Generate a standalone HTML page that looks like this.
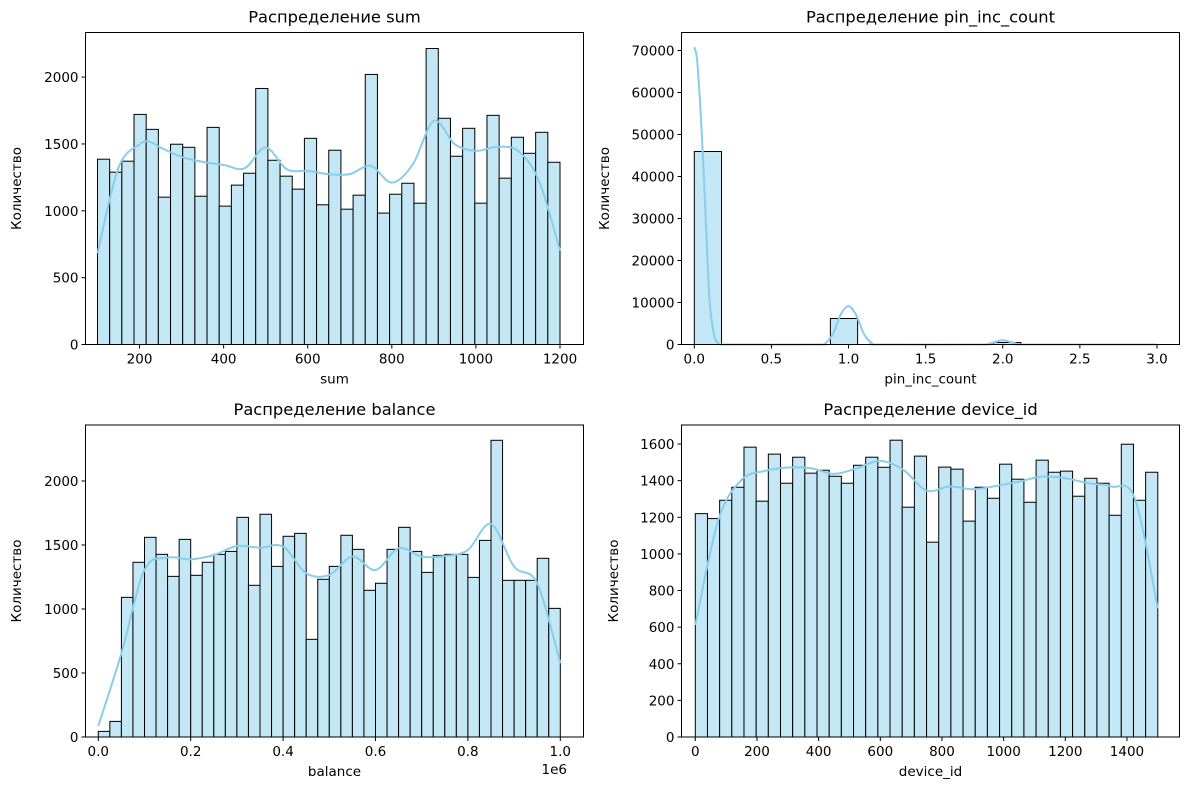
<!DOCTYPE html>
<html><head><meta charset="utf-8"><style>
body{margin:0;background:#fff}
svg{display:block;font-family:"DejaVu Sans","Liberation Sans",sans-serif}
</style></head><body>
<svg id="fig" width="1189" height="790" viewBox="0 0 1189 790" xmlns="http://www.w3.org/2000/svg"></svg>
<script>
// ---- data ----
const sumCounts=[1386,1289,1371,1721,1609,1102,1498,1475,1109,1624,1035,1192,1281,1915,1378,1259,1162,1542,1045,1453,1012,1117,2020,983,1124,1206,1057,2214,1692,1408,1617,1057,1714,1244,1550,1430,1587,1363];
const sumKdeX=[100,150,200,225,250,300,350,400,450,500,550,600,650,700,750,800,850,900,950,1000,1050,1100,1150,1200];
const sumKdeY=[682,1323,1497,1515,1473,1403,1366,1343,1318,1473,1311,1299,1274,1274,1336,1211,1348,1672,1497,1448,1478,1448,1224,702];
const pinCounts=[45950,0,0,0,0,6190,0,0,0,0,0,476,0,0,0,0,20];
const pinKdeX=[0,0.02,0.05,0.08,0.1,0.13,0.16,0.2,0.25,0.8,0.85,0.9,0.95,1.0,1.05,1.1,1.15,1.2,1.85,1.9,1.95,2.0,2.05,2.1,2.15,3.0];
const pinKdeY=[70800,67000,49200,25000,10000,2000,200,0,0,0,300,2600,7200,9100,7000,2500,400,0,0,100,600,1000,600,100,0,0];
const balCounts=[44,122,1091,1365,1560,1427,1255,1544,1263,1365,1427,1450,1716,1185,1740,1333,1568,1591,763,1232,1333,1576,1466,1146,1201,1466,1638,1450,1286,1419,1427,1427,1247,1536,2318,1224,1224,1224,1396,1005];
const balKdeX=[0,0.05,0.1,0.15,0.2,0.25,0.3,0.35,0.4,0.45,0.5,0.55,0.6,0.65,0.7,0.75,0.8,0.85,0.9,0.95,1.0];
const balKdeY=[86,654,1305,1401,1388,1422,1492,1479,1487,1279,1266,1409,1305,1474,1409,1414,1461,1664,1331,1201,576];
const devCounts=[1220,1193,1293,1364,1583,1288,1545,1386,1528,1441,1457,1424,1386,1484,1528,1473,1621,1255,1534,1064,1474,1463,1179,1364,1304,1490,1408,1282,1512,1446,1452,1315,1413,1386,1211,1599,1293,1446];
const devKdeX=[0,75,150,225,300,375,450,525,600,675,750,825,900,975,1050,1125,1200,1275,1350,1425,1500];
const devKdeY=[612,1186,1404,1453,1472,1468,1437,1468,1508,1459,1346,1368,1353,1371,1395,1422,1413,1386,1368,1304,703];
const sumXTicks=[200,400,600,800,1000,1200], sumYTicks=[0,500,1000,1500,2000];
const pinXTicks=[0,0.5,1,1.5,2,2.5,3], pinXLabels=["0.0","0.5","1.0","1.5","2.0","2.5","3.0"];
const pinYTicks=[0,10000,20000,30000,40000,50000,60000,70000];
const balXTicks=[0,0.2,0.4,0.6,0.8,1], balXLabels=["0.0","0.2","0.4","0.6","0.8","1.0"];
const balYTicks=[0,500,1000,1500,2000];
const devXTicks=[0,200,400,600,800,1000,1200,1400], devYTicks=[0,200,400,600,800,1000,1200,1400,1600];

const NS="http://www.w3.org/2000/svg";
const fig=document.getElementById('fig');
function mk(tag,attrs,parent){const e=document.createElementNS(NS,tag);for(const k in attrs)e.setAttribute(k,attrs[k]);(parent||fig).appendChild(e);return e;}
function smoothPath(pts){let d=`M${pts[0][0]},${pts[0][1]}`;for(let i=0;i<pts.length-1;i++){const p0=pts[Math.max(0,i-1)],p1=pts[i],p2=pts[i+1],p3=pts[Math.min(pts.length-1,i+2)];
const c1x=p1[0]+(p2[0]-p0[0])/6,c1y=p1[1]+(p2[1]-p0[1])/6,c2x=p2[0]-(p3[0]-p1[0])/6,c2y=p2[1]-(p3[1]-p1[1])/6;d+=` C${c1x},${c1y} ${c2x},${c2y} ${p2[0]},${p2[1]}`;}return d;}

function panel(o){
  const g=mk('g',{});
  
  
  const X=v=>o.px0+(v-o.v0)*(o.px1-o.px0)/(o.v1-o.v0);
  const Y=v=>o.py0-v*o.ky;
  const bw=(o.b1-o.b0)/o.counts.length;
  o.counts.forEach((c,i)=>{
    const x0=X(o.b0+i*bw),x1=X(o.b0+(i+1)*bw);
    if(c<=0)return;
    const r=mk('rect',{x:x0,y:Y(c),width:x1-x0,height:Y(0)-Y(c),fill:'#c3e7f5',stroke:'#000','stroke-width':1},g);
    
    
  });
  const pts=o.kx.map((v,i)=>[X(v),Y(o.ky2[i])]);
  const p=mk('path',{d:smoothPath(pts),fill:'none',stroke:'#87ceeb','stroke-width':2},g);
  
  
  const f=mk('rect',{x:o.fx,y:o.fy,width:o.fw,height:o.fh,fill:'none',stroke:'#000','stroke-width':1},g);
  
  
  const bot=o.fy+o.fh;
  o.xt.forEach((v,i)=>{const x=X(v);mk('line',{x1:x,x2:x,y1:bot,y2:bot+4,stroke:'#000'},g);
    const t=mk('text',{x:x,y:bot+19,'text-anchor':'middle','font-size':13.5},g);t.textContent=o.xl?o.xl[i]:String(v);
    
    });
  o.yt.forEach(v=>{const y=Y(v);mk('line',{x1:o.fx-4,x2:o.fx,y1:y,y2:y,stroke:'#000'},g);
    const t=mk('text',{x:o.fx-7,y:y+5,'text-anchor':'end','font-size':13.5},g);t.textContent=String(v);
    
    });
  const ti=mk('text',{x:o.fx+o.fw/2,y:o.fy-10,'text-anchor':'middle','font-size':16.3},g);ti.textContent='Распределение '+o.label;
  
  
  const xl=mk('text',{x:o.fx+o.fw/2,y:bot+39,'text-anchor':'middle','font-size':13.5},g);xl.textContent=o.label;
  
  
  const cy=o.fy+o.fh/2;
  const yl=mk('text',{x:o.ylx,y:cy,'text-anchor':'middle','font-size':13.5,transform:`rotate(-90 ${o.ylx} ${cy})`},g);yl.textContent='Количество';
  
  
}
panel({name:'sum',label:'sum',counts:sumCounts,b0:100,b1:1200,kx:sumKdeX,ky2:sumKdeY,v0:100,v1:1200,px0:97.5,px1:560,py0:344.5,ky:0.1337,fx:85.5,fy:32.5,fw:498,fh:312,xt:sumXTicks,yt:sumYTicks,ylx:21});
panel({name:'pin-inc-count',label:'pin_inc_count',counts:pinCounts,b0:0,b1:3,kx:pinKdeX,ky2:pinKdeY,v0:0,v1:3,px0:694.3,px1:1157,py0:344.5,ky:0.0042,fx:681.5,fy:32.5,fw:498,fh:312,xt:pinXTicks,xl:pinXLabels,yt:pinYTicks,ylx:609});
panel({name:'balance',label:'balance',counts:balCounts,b0:0,b1:1,kx:balKdeX,ky2:balKdeY,v0:0,v1:1,px0:98.3,px1:560.3,py0:737,ky:0.128,fx:85.5,fy:425,fw:498,fh:312,xt:balXTicks,xl:balXLabels,yt:balYTicks,ylx:21});
panel({name:'device-id',label:'device_id',counts:devCounts,b0:0,b1:1500,kx:devKdeX,ky2:devKdeY,v0:0,v1:1500,px0:695.3,px1:1157.8,py0:737,ky:0.1831,fx:681.5,fy:425,fw:498,fh:312,xt:devXTicks,yt:devYTicks,ylx:618});
const off=mk('text',{x:567,y:774,'text-anchor':'end','font-size':13.5});off.textContent='1e6';


</script>
</body></html>
